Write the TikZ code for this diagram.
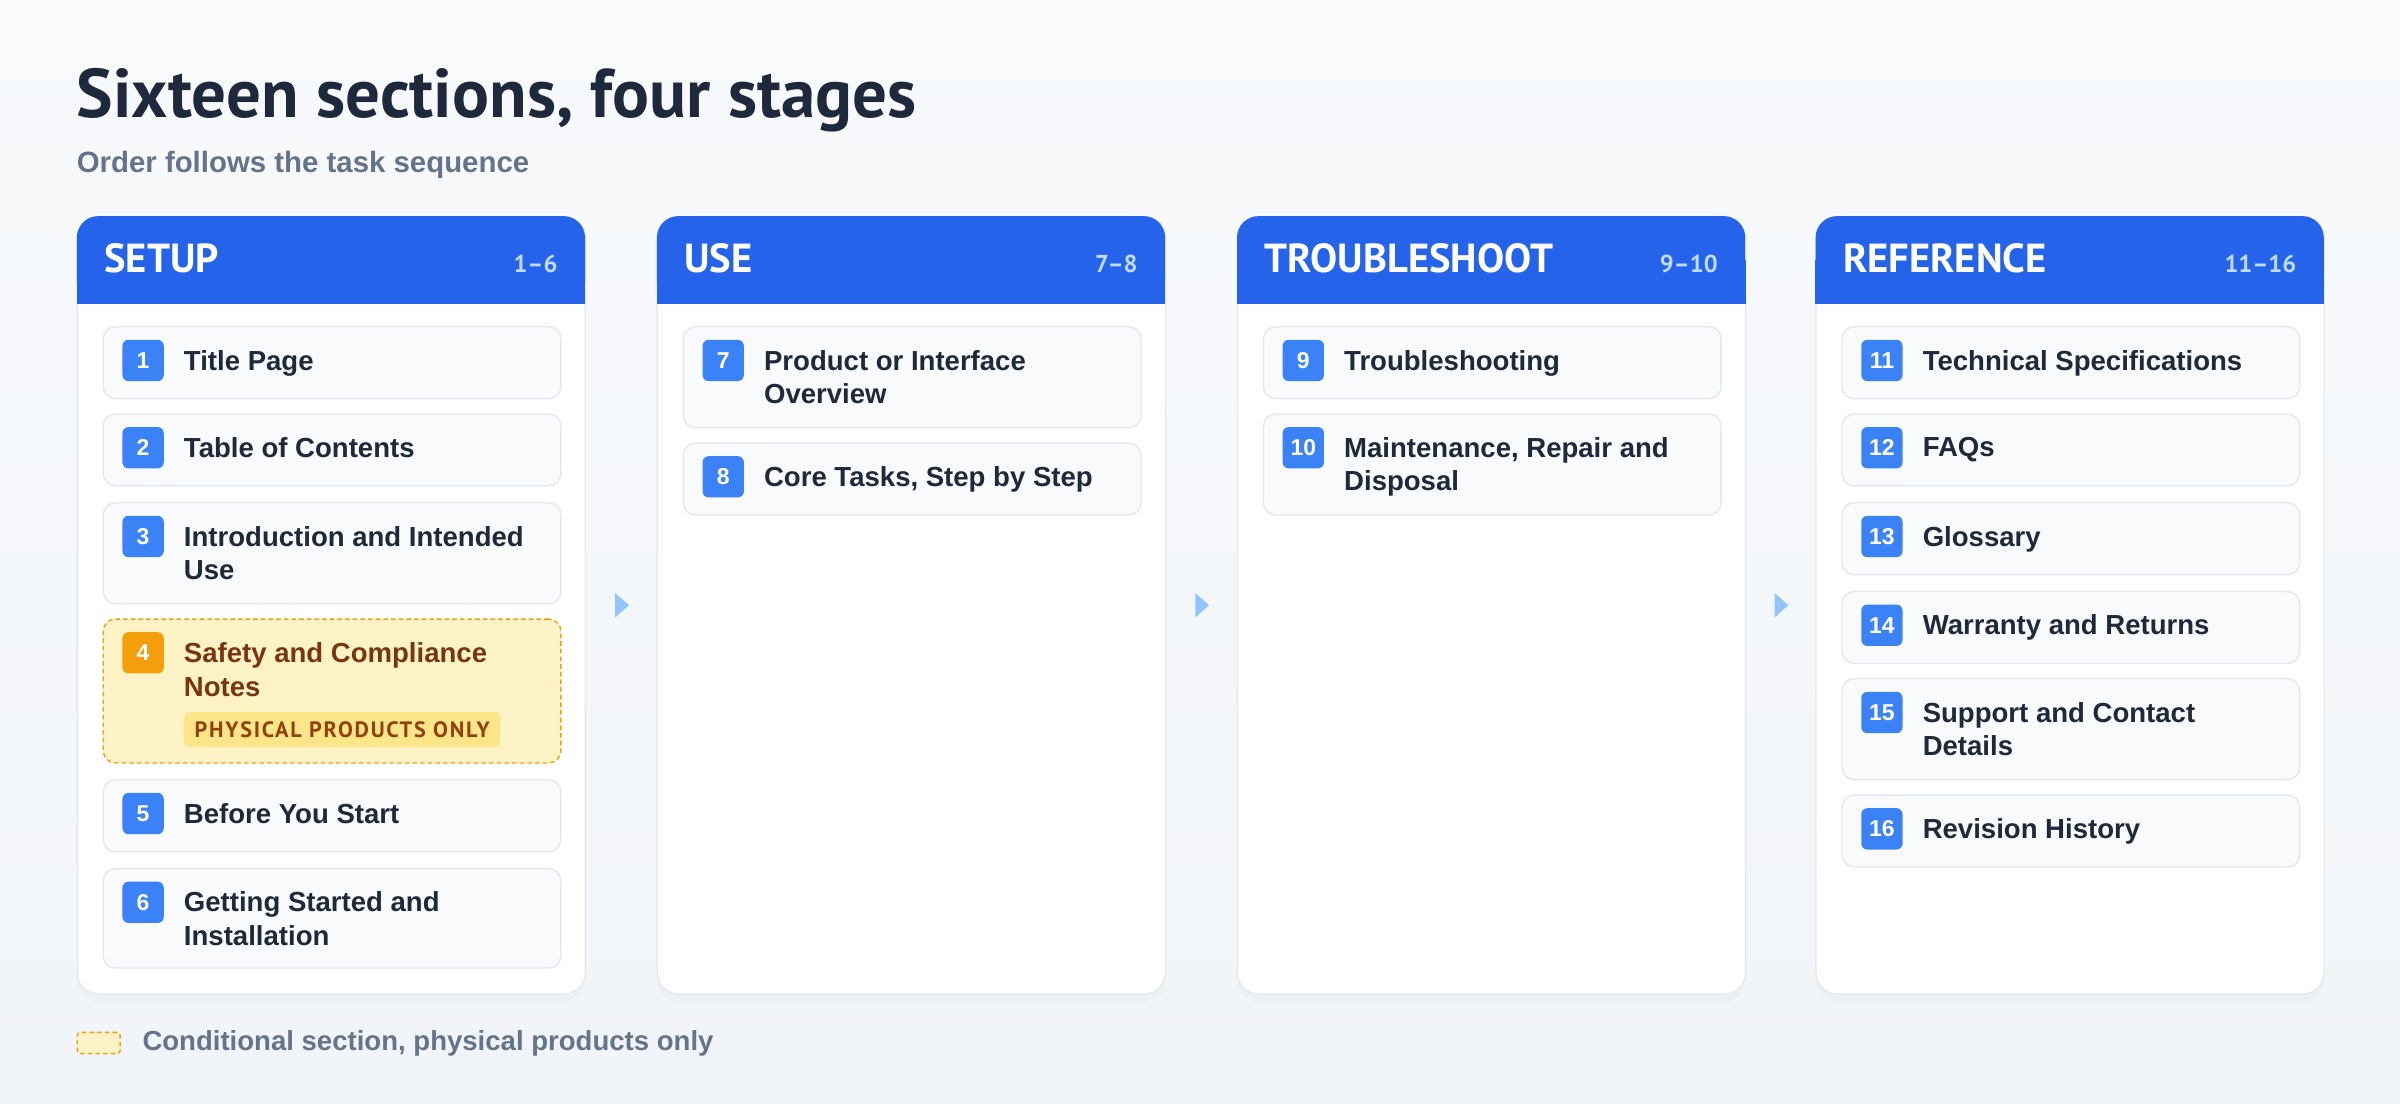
\documentclass[tikz,border=0pt]{standalone}
\usepackage{fontspec}
\setmainfont{Liberation Sans}
\newfontfamily\headfont{PT Sans}
\newfontfamily\tagfont[LetterSpace=8]{PT Sans}
\usetikzlibrary{calc,positioning,shadows}
\definecolor{bgtop}{HTML}{F8FAFC}
\definecolor{bgbot}{HTML}{F1F4F8}
\definecolor{ink}{HTML}{1E293B}
\definecolor{slate}{HTML}{64748B}
\definecolor{hdrblue}{HTML}{2563EB}
\definecolor{rangeblue}{HTML}{BFDBFE}
\definecolor{badgeblue}{HTML}{3B82F6}
\definecolor{arrblue}{HTML}{93C5FD}
\definecolor{itemfill}{HTML}{F8FAFC}
\definecolor{itemline}{HTML}{E2E8F0}
\definecolor{amber}{HTML}{F59E0B}
\definecolor{amberfill}{HTML}{FEF3C7}
\definecolor{tagfill}{HTML}{FDE68A}
\definecolor{ambertext}{HTML}{78350F}
\definecolor{tagtext}{HTML}{92400E}
\tikzset{%
    card/.style={anchor=north west, minimum width=332, minimum height=508, inner sep=0, fill=white, draw=itemline, line width=0.8pt, rounded corners=14, drop shadow={opacity=0.04, shadow xshift=0pt, shadow yshift=-5pt}},
    hdr/.style={anchor=north west, minimum width=332, minimum height=57, inner sep=0, fill=hdrblue, rounded corners=14},
    stage/.style={anchor=base west, inner sep=0, text=white, font=\headfont\bfseries\fontsize{26.5}{30}\selectfont},
    rng/.style={anchor=base east, inner sep=0, text=rangeblue, font=\headfont\bfseries\fontsize{16}{20}\selectfont},
    itm/.style={anchor=north west, minimum width=299, minimum height=47, inner sep=0, fill=itemfill, draw=itemline, line width=0.9pt, rounded corners=8},
    cond/.style={itm, fill=amberfill, draw=amber, dash pattern=on 3pt off 2pt},
    num/.style={minimum size=27, inner sep=0, fill=badgeblue, rounded corners=4, text=white, font=\bfseries\fontsize{15}{18}\selectfont},
    numc/.style={num, fill=amber},
    lbl/.style={anchor=north west, align=left, inner sep=0, text=ink, font=\bfseries\fontsize{18}{22}\selectfont},
    lblc/.style={lbl, text=ambertext},
    tag/.style={anchor=north west, minimum height=23, inner xsep=7, inner ysep=0, fill=tagfill, rounded corners=4, text=tagtext, font=\tagfont\bfseries\fontsize{14.5}{16}\selectfont},
    arr/.style={fill=arrblue},
}
\begin{document}
\begin{tikzpicture}[x=1pt, y=-1pt]
    \shade[top color=bgtop, bottom color=bgbot] (0,0) rectangle (1568,721);
    \useasboundingbox (0,0) rectangle (1568,721);
    \node[anchor=base west, inner sep=0, text=ink, font=\headfont\bfseries\fontsize{45}{50}\selectfont] (title) at (50,77) {Sixteen sections, four stages};
    \node[anchor=base west, inner sep=0, text=slate, font=\bfseries\fontsize{19.2}{22}\selectfont] (sub) at (50,113) {Order follows the task sequence};

    % cards
    \node[card] (setupc) at (50,141) {};
    \node[card] (usec) at (429,141) {};
    \node[card] (troublec) at (808,141) {};
    \node[card] (refc) at (1186,141) {};
    \node[hdr] (setup) at (50,141) {};
    \node[hdr] (use) at (429,141) {};
    \node[hdr] (trouble) at (808,141) {};
    \node[hdr] (ref) at (1186,141) {};
    \fill[hdrblue] (setup.west) rectangle (setup.south east);
    \fill[hdrblue] (use.west) rectangle (use.south east);
    \fill[hdrblue] (trouble.west) rectangle (trouble.south east);
    \fill[hdrblue] (ref.west) rectangle (ref.south east);
    \node[stage] at ($(setup.north west)+(18,37)$) {SETUP};
    \node[rng] at ($(setup.north east)+(-18,37)$) {1–6};
    \node[stage] at ($(use.north west)+(18,37)$) {USE};
    \node[rng] at ($(use.north east)+(-18,37)$) {7–8};
    \node[stage] at ($(trouble.north west)+(18,37)$) {TROUBLESHOOT};
    \node[rng] at ($(trouble.north east)+(-18,37)$) {9–10};
    \node[stage] at ($(ref.north west)+(18,37)$) {REFERENCE};
    \node[rng] at ($(ref.north east)+(-18,37)$) {11–16};

    % setup
    \node[itm] (i1) at (67,213) {};
    \node[num] (n1) at ($(i1.north west)+(26.5,22.5)$) {1};
    \node[lbl] (t1) at ($(i1.north west)+(53,15.5)$) {Title Page};
    \node[itm] (i2) at (67,270) {};
    \node[num] (n2) at ($(i2.north west)+(26.5,22.5)$) {2};
    \node[lbl] (t2) at ($(i2.north west)+(53,15.5)$) {Table of Contents};
    \node[itm, minimum height=66] (i3) at (67,328) {};
    \node[num] (n3) at ($(i3.north west)+(26.5,22.5)$) {3};
    \node[lbl] (t3) at ($(i3.north west)+(53,15.5)$) {Introduction and Intended\\Use};
    \node[cond, minimum height=94] (i4) at (67,404) {};
    \node[numc] (n4) at ($(i4.north west)+(26.5,22.5)$) {4};
    \node[lblc] (t4) at ($(i4.north west)+(53,15.5)$) {Safety and Compliance\\Notes};
    \node[tag] (tag4) at ($(i4.north west)+(53,61)$) {PHYSICAL PRODUCTS ONLY};
    \node[itm] (i5) at (67,509) {};
    \node[num] (n5) at ($(i5.north west)+(26.5,22.5)$) {5};
    \node[lbl] (t5) at ($(i5.north west)+(53,15.5)$) {Before You Start};
    \node[itm, minimum height=65] (i6) at (67,567) {};
    \node[num] (n6) at ($(i6.north west)+(26.5,22.5)$) {6};
    \node[lbl] (t6) at ($(i6.north west)+(53,15.5)$) {Getting Started and\\Installation};

    % use
    \node[itm, minimum height=66] (i7) at (446,213) {};
    \node[num] (n7) at ($(i7.north west)+(26.5,22.5)$) {7};
    \node[lbl] (t7) at ($(i7.north west)+(53,15.5)$) {Product or Interface\\Overview};
    \node[itm] (i8) at (446,289) {};
    \node[num] (n8) at ($(i8.north west)+(26.5,22.5)$) {8};
    \node[lbl] (t8) at ($(i8.north west)+(53,15.5)$) {Core Tasks, Step by Step};

    % troubleshoot
    \node[itm] (i9) at (825,213) {};
    \node[num] (n9) at ($(i9.north west)+(26.5,22.5)$) {9};
    \node[lbl] (t9) at ($(i9.north west)+(53,15.5)$) {Troubleshooting};
    \node[itm, minimum height=66] (i10) at (825,270) {};
    \node[num] (n10) at ($(i10.north west)+(26.5,22.5)$) {10};
    \node[lbl] (t10) at ($(i10.north west)+(53,15.5)$) {Maintenance, Repair and\\Disposal};

    % reference
    \node[itm] (i11) at (1203,213) {};
    \node[num] (n11) at ($(i11.north west)+(26.5,22.5)$) {11};
    \node[lbl] (t11) at ($(i11.north west)+(53,15.5)$) {Technical Specifications};
    \node[itm] (i12) at (1203,270) {};
    \node[num] (n12) at ($(i12.north west)+(26.5,22.5)$) {12};
    \node[lbl] (t12) at ($(i12.north west)+(53,15.5)$) {FAQs};
    \node[itm] (i13) at (1203,328) {};
    \node[num] (n13) at ($(i13.north west)+(26.5,22.5)$) {13};
    \node[lbl] (t13) at ($(i13.north west)+(53,15.5)$) {Glossary};
    \node[itm] (i14) at (1203,386) {};
    \node[num] (n14) at ($(i14.north west)+(26.5,22.5)$) {14};
    \node[lbl] (t14) at ($(i14.north west)+(53,15.5)$) {Warranty and Returns};
    \node[itm, minimum height=66] (i15) at (1203,443) {};
    \node[num] (n15) at ($(i15.north west)+(26.5,22.5)$) {15};
    \node[lbl] (t15) at ($(i15.north west)+(53,15.5)$) {Support and Contact\\Details};
    \node[itm] (i16) at (1203,519) {};
    \node[num] (n16) at ($(i16.north west)+(26.5,22.5)$) {16};
    \node[lbl] (t16) at ($(i16.north west)+(53,15.5)$) {Revision History};

    % stage arrows
    \coordinate (a1) at ($(setupc.east)!0.5!(usec.west)$);
    \coordinate (a2) at ($(usec.east)!0.5!(troublec.west)$);
    \coordinate (a3) at ($(troublec.east)!0.5!(refc.west)$);
    \fill[arr] (a1) ++(-4,-8) -- ++(9,8) -- ++(-9,8) -- cycle;
    \fill[arr] (a2) ++(-4,-8) -- ++(9,8) -- ++(-9,8) -- cycle;
    \fill[arr] (a3) ++(-4,-8) -- ++(9,8) -- ++(-9,8) -- cycle;

    % legend
    \node[cond, minimum width=28, minimum height=14, rounded corners=2] (leg) at (50,674) {};
    \node[anchor=west, inner sep=0, text=slate, font=\bfseries\fontsize{18}{20}\selectfont, right=14pt of leg] (legt) {Conditional section, physical products only};
\end{tikzpicture}
\end{document}
